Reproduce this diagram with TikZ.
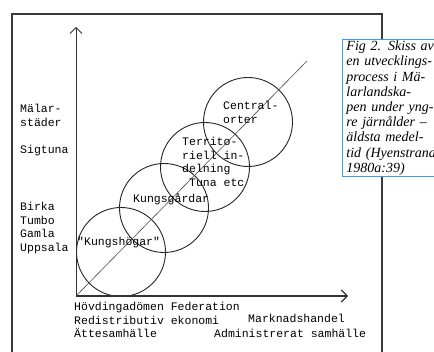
\documentclass[tikz,border=0pt]{standalone}
\usepackage{fontspec}
\setmainfont{Liberation Serif}
\setmonofont{Liberation Mono}
\usepackage{xcolor}
\usepackage{tikz}
\usetikzlibrary{arrows.meta, positioning}

\definecolor{framegray}{HTML}{3A3A3A}
\definecolor{capblue}{HTML}{3B9BF5}

\begin{document}
\begin{tikzpicture}[
    x=1pt, y=-1pt,
    frame/.style={draw=framegray, line width=1.3pt},
    axis/.style={draw=black!80, -{Straight Barb[length=6pt, width=12pt]}},
    ring/.style={
        circle,
        draw=black!85,
        line width=0.9pt,
        minimum size=89pt,
        inner sep=0pt
    },
    lbl/.style={
        anchor=north west,
        inner sep=0pt,
        align=left,
        font=\ttfamily\fontsize{11.5}{13.6}\selectfont
    },
    caption/.style={
        anchor=north west,
        draw=capblue,
        line width=0.9pt,
        fill=white,
        inner xsep=4pt,
        inner ysep=1.5pt,
        text width=100pt,
        align=left,
        font=\itshape\fontsize{14}{15.2}\selectfont
    }
]
  \useasboundingbox (0,0) rectangle (434,352);

  \draw[frame] (12,352) -- (12,14) -- (382,14) -- (382,352);

  \coordinate (origin) at (76,296);
  \coordinate (ytip) at (76,27);
  \coordinate (xtip) at (348,296);
  \coordinate (diagend) at (307,61);

  \node[ring] (hogar) at (121,252) {};
  \node[ring] (gardar) at (164,208) {};
  \node[ring] (terr) at (205,167) {};
  \node[ring] (central) at (248,122) {};

  \draw[black!70, line width=0.6pt] (origin) -- (diagend);
  \draw[axis, line width=0.8pt] (origin) -- (ytip);
  \draw[axis, line width=1.2pt] (origin) -- (xtip);

  \node[lbl] (malar) at (20,104) {Mälar-\\städer};
  \node[lbl] (sigtuna) at (20,145) {Sigtuna};
  \node[lbl] (birka) at (20,202) {Birka\\Tumbo\\Gamla\\Uppsala};

  \node[lbl] (orter) at (223,101) {Central-\\orter};
  \node[lbl] (tuna) at (182,137) {Territo-\\riell in-\\delning\\\ Tuna etc};
  \node[lbl] (kgardar) at (133,194) {Kungsgårdar};
  \node[lbl] (khogar) at (77,237) {"Kungshögar"};

  \node[lbl] (hovding) at (74,302) {Hövdingadömen Federation\\Redistributiv ekonomi\\Ättesamhälle};
  \node[lbl] (marknad) at (248,314) {Marknadshandel};
  \node[lbl] (admin) at (214,329) {Administrerat samhälle};

  \node[caption] (fig) at (342,39) {Fig 2. Skiss av\\en utvecklings-\\process i Mä-\\larlandska-\\pen under yng-\\re järnålder –\\äldsta medel-\\tid (Hyenstrand\\1980a:39)};
\end{tikzpicture}
\end{document}
